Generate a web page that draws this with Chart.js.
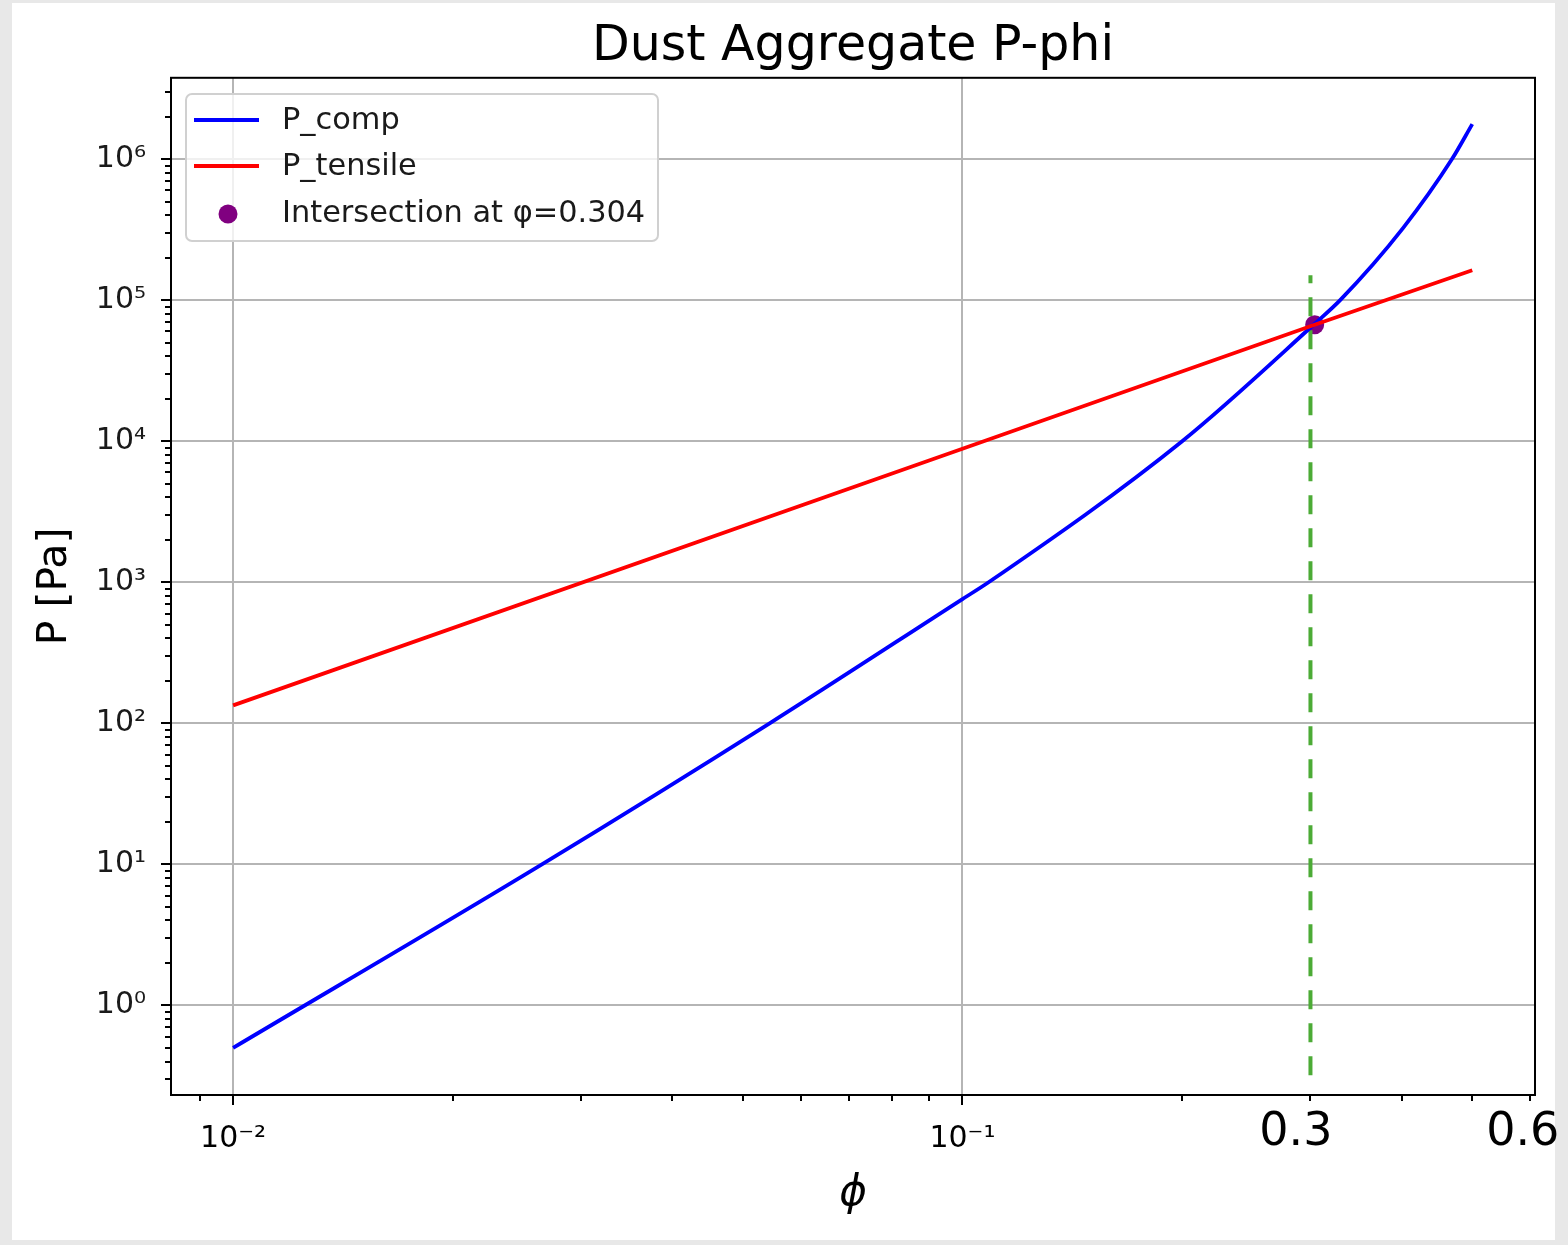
<!DOCTYPE html>
<html>
<head>
<meta charset="utf-8">
<script src="https://cdn.jsdelivr.net/npm/chart.js@4.4.0/dist/chart.umd.min.js"></script>
<style>
html, body { margin: 0; padding: 0; background: #e8e8e8; }
canvas { display: block; }
</style>
</head>
<body>
<canvas id="pphiChart" width="1568" height="1245"></canvas>
<script>
// values
var phiComp = [0.01, 0.02651, 0.0544, 0.1, 0.1086, 0.2001, 0.304, 0.3295, 0.4018, 0.469, 0.5];
var pComp = [0.5, 10, 100, 760, 1000, 10000, 68000, 100000, 324000, 1000000, 1770000];
var phiTensile = [0.01, 0.1, 0.304, 0.5];
var pTensile = [134, 8850, 67000, 163000];
var phiCross = 0.304;
var pCross = 67000;
var phiMark = 0.3;
var markRange = [0.32, 150000];

var xTickValues = [0.01, 0.1, 0.3, 0.6];
var xTickLabels = ["10⁻²", "10⁻¹", "0.3  ", "0.6 "];
var yTickValues = [1, 10, 100, 1000, 10000, 100000, 1000000];
var yTickLabels = ["10⁰", "10¹", "10²", "10³", "10⁴", "10⁵", "10⁶"];

Chart.defaults.font.family = "DejaVu Sans";
Chart.defaults.color = "#000";

function toPoints(xs, ys) {
    return xs.map(function (x, i) { return {x: x, y: ys[i]}; });
}

function minorValues(min, max) {
    var out = [];
    for (var k = -4; k <= 7; k++) {
        for (var m = 2; m <= 9; m++) {
            var v = m * Math.pow(10, k);
            if (v >= min && v <= max) out.push(v);
        }
    }
    return out;
}

// page frame, plot frame, tick marks, legend
var framePlugin = {
    id: "frame",
    beforeDraw: function (chart) {
        var ctx = chart.ctx;
        ctx.save();
        ctx.fillStyle = "#e8e8e8";
        ctx.fillRect(0, 0, chart.width, chart.height);
        ctx.fillStyle = "#ffffff";
        ctx.fillRect(12, 3, 1543, 1237);
        ctx.restore();
    },
    afterDraw: function (chart) {
        var ctx = chart.ctx, a = chart.chartArea;
        var xs = chart.scales.x, ys = chart.scales.y;
        ctx.save();
        ctx.strokeStyle = "#000";
        ctx.lineWidth = 2;
        ctx.beginPath();
        [0.01, 0.1].forEach(function (v) {
            var px = Math.round(xs.getPixelForValue(v));
            ctx.moveTo(px, a.bottom); ctx.lineTo(px, a.bottom + 10);
        });
        minorValues(xs.min, xs.max).forEach(function (v) {
            var px = Math.round(xs.getPixelForValue(v));
            ctx.moveTo(px, a.bottom); ctx.lineTo(px, a.bottom + 6);
        });
        yTickValues.forEach(function (v) {
            var py = Math.round(ys.getPixelForValue(v));
            ctx.moveTo(a.left, py); ctx.lineTo(a.left - 10, py);
        });
        minorValues(ys.min, ys.max).forEach(function (v) {
            var py = Math.round(ys.getPixelForValue(v));
            ctx.moveTo(a.left, py); ctx.lineTo(a.left - 6, py);
        });
        ctx.stroke();
        ctx.strokeRect(a.left, a.top, a.right - a.left, a.bottom - a.top);
        ctx.restore();

        // legend box
        var ds = chart.data.datasets;
        ctx.save();
        ctx.beginPath();
        ctx.roundRect(186, 94, 472, 147, 6);
        ctx.fillStyle = "rgba(255,255,255,0.8)";
        ctx.fill();
        ctx.strokeStyle = "#d0d0d0";
        ctx.lineWidth = 2;
        ctx.stroke();
        ctx.lineWidth = 3.8;
        [[0, 120], [1, 166]].forEach(function (e) {
            ctx.strokeStyle = ds[e[0]].borderColor;
            ctx.beginPath();
            ctx.moveTo(194, e[1]); ctx.lineTo(259, e[1]);
            ctx.stroke();
        });
        ctx.fillStyle = ds[3].backgroundColor;
        ctx.beginPath();
        ctx.arc(228, 214, 9.5, 0, Math.PI * 2);
        ctx.fill();
        ctx.fillStyle = "#1a1a1a";
        ctx.font = "30.4px 'DejaVu Sans'";
        ctx.textBaseline = "middle";
        ctx.fillText(ds[0].label, 282, 121);
        ctx.fillText(ds[1].label, 282, 167);
        ctx.fillText(ds[3].label, 282, 214);
        ctx.restore();
    }
};

var canvasElement = document.getElementById("pphiChart");
var config = {
    type: "scatter",
    data: {
        datasets: [
            {
                label: "P_comp",
                data: toPoints(phiComp, pComp),
                showLine: true,
                borderColor: "#0000ff",
                borderWidth: 3.8,
                pointRadius: 0,
                cubicInterpolationMode: "monotone",
                order: 2
            },
            {
                label: "P_tensile",
                data: toPoints(phiTensile, pTensile),
                showLine: true,
                borderColor: "#ff0000",
                borderWidth: 3.8,
                pointRadius: 0,
                order: 1
            },
            {
                label: "phi = 0.3",
                data: [{x: phiMark, y: markRange[0]}, {x: phiMark, y: markRange[1]}],
                showLine: true,
                borderColor: "#4cab36",
                borderWidth: 4,
                borderDash: [19, 14],
                pointRadius: 0,
                order: 3
            },
            {
                label: "Intersection at φ=0.304",
                data: [{x: phiCross, y: pCross}],
                backgroundColor: "#800080",
                borderWidth: 0,
                pointRadius: 9.5,
                order: 4
            }
        ]
    },
    options: {
        responsive: false,
        animation: false,
        layout: {padding: {left: 12, right: 33, top: 0, bottom: 5}},
        plugins: {
            legend: {display: false},
            tooltip: {enabled: false},
            title: {
                display: true,
                fullSize: false,
                text: "Dust Aggregate P-phi",
                color: "#000",
                font: {size: 49, weight: "normal"},
                padding: {top: 18, bottom: 1}
            }
        },
        scales: {
            x: {
                type: "logarithmic",
                min: 0.00822,
                max: 0.6095,
                border: {display: false},
                grid: {
                    drawTicks: false,
                    lineWidth: 2,
                    color: function (c) {
                        return (c.tick && c.tick.value < 0.2) ? "#b5b5b5" : "rgba(0,0,0,0)";
                    }
                },
                afterBuildTicks: function (scale) {
                    scale.ticks = xTickValues.map(function (v) { return {value: v}; });
                },
                afterFit: function (scale) {
                    scale.height = 145;
                    scale.paddingLeft = 0;
                    scale.paddingRight = 0;
                },
                ticks: {
                    autoSkip: false,
                    maxRotation: 0,
                    padding: 10,
                    color: "#000",
                    font: function (c) {
                        if (c.tick && c.tick.value > 0.2) return {size: 46, lineHeight: 1.2};
                        return {size: 30, lineHeight: 2.3};
                    },
                    callback: function (value, index) { return xTickLabels[index]; }
                },
                title: {
                    display: true,
                    text: "ϕ",
                    color: "#000",
                    font: {size: 42, style: "italic"},
                    padding: {top: 0, bottom: 21}
                }
            },
            y: {
                type: "logarithmic",
                min: 0.2317,
                max: 3770000,
                border: {display: false},
                grid: {drawTicks: false, lineWidth: 2, color: "#b5b5b5"},
                afterBuildTicks: function (scale) {
                    scale.ticks = yTickValues.map(function (v) { return {value: v}; });
                },
                afterFit: function (scale) {
                    scale.width = 159;
                    scale.paddingTop = 0;
                    scale.paddingBottom = 0;
                },
                ticks: {
                    autoSkip: false,
                    padding: 25,
                    color: "#1a1a1a",
                    font: {size: 30},
                    callback: function (value, index) { return yTickLabels[index]; }
                },
                title: {
                    display: true,
                    text: "P [Pa]",
                    color: "#000",
                    font: {size: 41},
                    padding: {top: 19, bottom: 0}
                }
            }
        }
    },
    plugins: [framePlugin]
};

var pphiChart = new Chart(canvasElement, config);
</script>
</body>
</html>
